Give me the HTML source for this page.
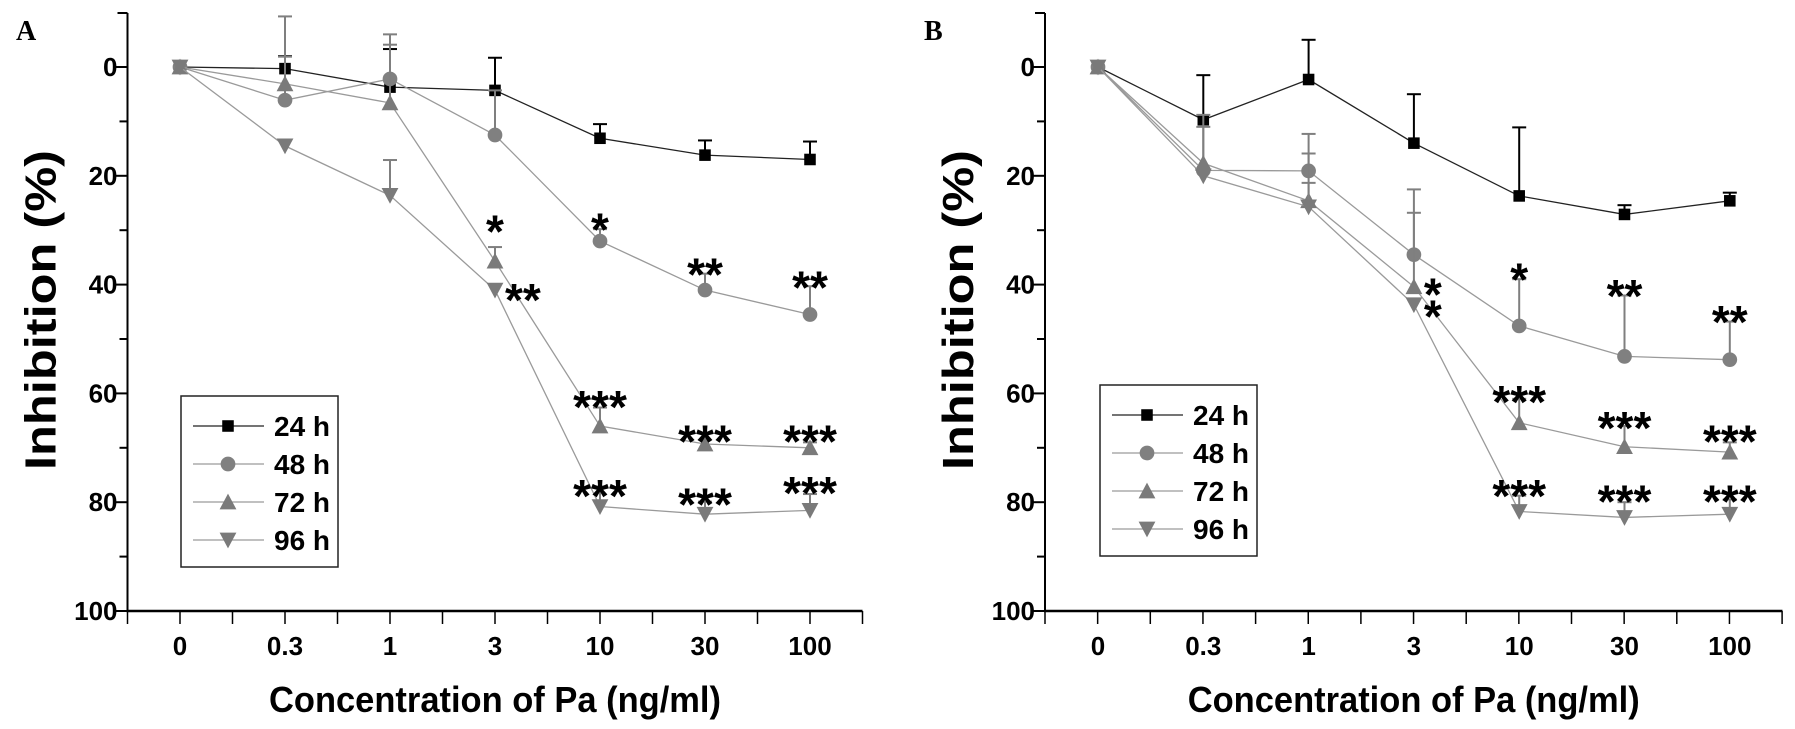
<!DOCTYPE html>
<html><head><meta charset="utf-8">
<style>
html,body{margin:0;padding:0;background:#fff;}
svg{display:block;}
text{font-family:"Liberation Sans",Arial,sans-serif;font-weight:bold;fill:#000;}
</style></head>
<body>
<svg id="chart" width="1795" height="729" viewBox="0 0 1795 729" xmlns="http://www.w3.org/2000/svg"></svg>
<script>
const categories = ["0","0.3","1","3","10","30","100"];
const yTicks = [0,20,40,60,80,100];
const seriesNames = ["24 h","48 h","72 h","96 h"];

// Panel A values (inhibition %)
const a24 = [0,0.3,3.7,4.3,13.1,16.2,17];
const a48 = [0,6.1,2.2,12.5,32,41,45.5];
const a72 = [0,3.1,6.6,35.7,66,69.3,70];
const a96 = [0,14.5,23.6,41,80.8,82.2,81.5];
// Panel A error magnitudes
const a24e = [0,2.3,7,6,2.6,2.7,3.3];
const a48e = [0,8,6.3,8.2,2.2,3,5.2];
const a72e = [0,12.4,12.6,2.6,3.4,0,1];
const a96e = [0,0,6.5,0,3.7,2.3,3];

// Panel B values
const b24 = [0,9.7,2.3,14,23.7,27.1,24.6];
const b48 = [0,19,19.1,34.5,47.6,53.2,53.8];
const b72 = [0,17.7,24.6,40.4,65.4,69.8,70.8];
const b96 = [0,20,25.7,43.7,81.7,82.8,82.2];
const b24e = [0,8.2,7.3,9,12.6,1.7,1.5];
const b48e = [0,10.2,6.8,12,8.6,11.2,7];
const b72e = [0,6.7,8.7,13.6,4.4,3.8,1.8];
const b96e = [0,0,4.4,0,2.9,2.8,2.7];

// Significance labels: [categoryIndex, value (center), text, offsetX]
const aStars = [[3,28.4,"*",0],[3,41,"**",10],[4,28,"*",0],[4,60.7,"***",0],[4,77,"***",0],[5,36.3,"**",0],[5,67,"***",0],[5,78.6,"***",0],[6,38.7,"**",0],[6,67,"***",0],[6,76.5,"***",0]];
const bStars = [[3,40,"*",10],[3,44,"*",10],[4,37.2,"*",0],[4,59.7,"***",0],[4,77,"***",0],[5,40.3,"**",0],[5,64.5,"***",0],[5,78,"***",0],[6,45,"**",0],[6,67,"***",0],[6,78,"***",0]];

const NS="http://www.w3.org/2000/svg";
const svg=document.getElementById('chart');
function mk(tag,attrs,parent){const e=document.createElementNS(NS,tag);for(const k in attrs)e.setAttribute(k,attrs[k]);(parent||svg).appendChild(e);return e;}

const colors=["#000","#7f7f7f","#7f7f7f","#7f7f7f"];
const lineColors=["#222","#9a9a9a","#9a9a9a","#9a9a9a"];

function marker(g,type,x,y,s){
  let m;
  if(type===0) m=mk('rect',{x:x-5.5*s,y:y-5.5*s,width:11*s,height:11*s,fill:'#000'},g);
  else if(type===1) m=mk('circle',{cx:x,cy:y,r:7*s,fill:'#808080'},g);
  else if(type===2) m=mk('polygon',{points:`${x},${y-8*s} ${x-8*s},${y+7*s} ${x+8*s},${y+7*s}`,fill:'#7a7a7a'},g);
  else m=mk('polygon',{points:`${x},${y+8*s} ${x-8*s},${y-7*s} ${x+8*s},${y-7*s}`,fill:'#7a7a7a'},g);
  return m;
}

function panel(opt){
  const {left,x0,dx,letter,letterX,series,errs,stars,legend,id}=opt;
  const g=mk('g',{});
  
  
  const yTop=13,y0=67,y100=611,right=x0+6.5*dx;
  const ys=v=>y0+(y100-y0)*v/100;
  const xs=i=>x0+i*dx;
  const lt=mk('text',{x:letterX,y:40,'font-size':28,style:'font-family:"Liberation Serif",serif;font-weight:bold'},g);
  lt.textContent=letter;
  
  
  const ya=mk('line',{x1:left,y1:yTop,x2:left,y2:y100+1,stroke:'#000','stroke-width':2},g);
  
  
  const xa=mk('line',{x1:left-1,y1:y100,x2:right,y2:y100,stroke:'#000','stroke-width':2.5},g);
  
  
  mk('line',{x1:left-10,y1:yTop,x2:left,y2:yTop,stroke:'#000','stroke-width':2},g);
  for(let v=0;v<=100;v+=10){
    const major=v%20===0;
    mk('line',{x1:left-(major?12:8),y1:ys(v),x2:left,y2:ys(v),stroke:'#000','stroke-width':2},g);
  }
  yTicks.forEach(v=>{
    const t=mk('text',{x:left-10,y:ys(v)+9,'font-size':26,'text-anchor':'end'},g);
    t.textContent=v;
    
    
  });
  for(let k=0;k<=14;k++){
    const x=left+k*dx/2;
    mk('line',{x1:x,y1:y100,x2:x,y2:y100+13,stroke:'#000','stroke-width':1.5},g);
  }
  categories.forEach((c,i)=>{
    const t=mk('text',{x:xs(i),y:655,'font-size':26,'text-anchor':'middle'},g);
    t.textContent=c;
    
    
  });
  const xt=mk('text',{x:(left+right)/2,y:712,'font-size':36,'text-anchor':'middle',textLength:452,lengthAdjust:'spacingAndGlyphs'},g);
  xt.textContent='Concentration of Pa (ng/ml)';
  
  
  const ytx=left-72, yty=310;
  const yt=mk('text',{x:ytx,y:yty,'font-size':44,'text-anchor':'middle',transform:`rotate(-90 ${ytx} ${yty})`,textLength:320,lengthAdjust:'spacingAndGlyphs'},g);
  yt.textContent='Inhibition (%)';
  
  
  series.forEach((vals,s)=>{
    const sg=mk('g',{},g);
    
    
    const pts=vals.map((v,i)=>xs(i)+','+ys(v)).join(' ');
    mk('polyline',{points:pts,fill:'none',stroke:lineColors[s],'stroke-width':1.3},sg);
    vals.forEach((v,i)=>{
      const e=errs[s][i];
      if(e>0){
        const yc=ys(v-e);
        mk('line',{x1:xs(i),y1:ys(v),x2:xs(i),y2:yc,stroke:colors[s],'stroke-width':2},sg);
        mk('line',{x1:xs(i)-7,y1:yc,x2:xs(i)+7,y2:yc,stroke:colors[s],'stroke-width':2},sg);
      }
    });
    vals.forEach((v,i)=>{
      const m=marker(sg,s,xs(i),ys(v),1.05);
      
      
    });
  });
  stars.forEach(st=>{
    const t=mk('text',{x:xs(st[0])+st[3],y:ys(st[1])+26,'font-size':46,'text-anchor':st[3]?'start':'middle'},g);
    t.textContent=st[2];
    
    
  });
  const lg=mk('g',{},g);
  
  
  mk('rect',{x:legend.x,y:legend.y,width:157,height:171,fill:'#fff',stroke:'#222','stroke-width':1.5},lg);
  seriesNames.forEach((n,s)=>{
    const ry=legend.y+30+s*38;
    const eg=mk('g',{},lg);
    
    
    mk('line',{x1:legend.x+12,y1:ry,x2:legend.x+83,y2:ry,stroke:lineColors[s],'stroke-width':1.3},eg);
    marker(eg,s,legend.x+47,ry,1.05);
    const t=mk('text',{x:legend.x+93,y:ry+10,'font-size':28},eg);
    t.textContent=n;
  });
}

panel({id:'a',left:127.5,x0:180,dx:105,letter:'A',letterX:16,
  series:[a24,a48,a72,a96],errs:[a24e,a48e,a72e,a96e],stars:aStars,legend:{x:181,y:396}});
panel({id:'b',left:1045,x0:1098,dx:105.3,letter:'B',letterX:924,
  series:[b24,b48,b72,b96],errs:[b24e,b48e,b72e,b96e],stars:bStars,legend:{x:1100,y:385}});
</script>
</body></html>
